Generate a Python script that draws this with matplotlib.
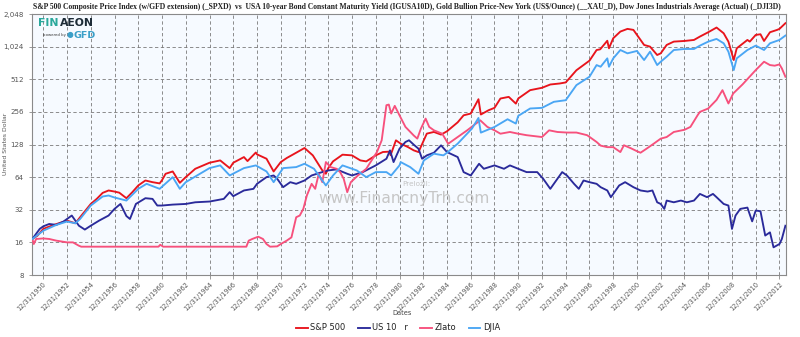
import matplotlib
matplotlib.use("Agg")
import matplotlib.pyplot as plt
from matplotlib.ticker import FixedLocator, NullLocator

# ---- series (decimal years, values in US$ rebased) ----
sp_years = [1950.08, 1950.5, 1951.0, 1951.55, 1952.1, 1953.0, 1953.7, 1954.1, 1955.0, 1955.5,
            1956.0, 1956.5, 1957.0, 1957.4, 1958.0, 1958.5, 1959.0, 1959.6, 1960.2, 1960.8,
            1961.0, 1961.3, 1961.9, 1962.5, 1963.0, 1963.8, 1965.0, 1965.9, 1966.7, 1967.0,
            1967.9, 1968.2, 1968.9, 1969.0, 1969.8, 1970.4, 1971.0, 1971.5, 1972.3, 1973.0,
            1973.7, 1974.5, 1974.8, 1975.0, 1975.4, 1976.2, 1977.0, 1977.7, 1978.2, 1979.0,
            1979.6, 1980.15, 1980.25, 1980.7, 1981.1, 1981.7, 1982.2, 1982.6, 1983.3, 1983.9,
            1984.5, 1985.0, 1985.9, 1986.4, 1987.0, 1987.65, 1987.85, 1988.5, 1989.0, 1989.5,
            1990.2, 1990.8, 1991.0, 1992.0, 1993.0, 1993.7, 1994.5, 1995.0, 1995.9, 1997.0,
            1997.6, 1997.9, 1998.5, 1998.64, 1999.0, 1999.6, 2000.2, 2000.7, 2001.2, 2001.6,
            2002.1, 2002.7, 2003.0, 2003.5, 2004.1, 2005.0, 2005.8, 2006.3, 2007.0, 2007.7,
            2008.3, 2008.7, 2009.15, 2009.4, 2010.3, 2010.5, 2011.0, 2011.4, 2011.7, 2012.2,
            2012.8, 2013.0, 2013.5]
sp_values = [17.2, 18.4, 21.3, 22.5, 23.6, 25.4, 24.0, 27.3, 36.2, 40.3,
             45.8, 48.2, 47.1, 46.0, 40.9, 46.5, 53.6, 59.6, 57.5, 56.0,
             60.0, 68.7, 72.2, 56.7, 64.0, 76.4, 86.9, 91.3, 77.5, 86.9,
             98.0, 90.0, 108.0, 103.8, 94.6, 72.2, 88.1, 96.0, 107.5, 118.8,
             101.6, 73.8, 68.7, 77.5, 89.4, 103.1, 101.6, 91.3, 89.4, 101.6,
             109.1, 110.0, 102.0, 139.9, 130.3, 121.4, 113.0, 109.0, 161.3, 167.1,
             157.9, 169.5, 205.0, 238.0, 247.0, 335.0, 242.0, 265.0, 278.8, 340.0,
             352.0, 305.0, 340.0, 406.0, 427.0, 458.0, 468.0, 478.7, 620.0, 760.0,
             953.0, 967.0, 1160.0, 988.0, 1223.0, 1410.0, 1493.0, 1461.0, 1223.0, 1061.0,
             1024.0, 857.0, 888.0, 1061.0, 1139.0, 1155.0, 1180.0, 1268.0, 1390.0, 1536.0,
             1360.0, 1139.0, 770.0, 988.0, 1180.0, 1139.0, 1313.0, 1332.0, 1155.0, 1390.0,
             1461.0, 1493.0, 1684.0]

us10_years = [1950.08, 1950.7, 1951.0, 1951.5, 1952.1, 1952.7, 1953.4, 1954.0, 1954.5, 1955.0,
              1955.7, 1956.5, 1957.0, 1957.5, 1958.0, 1958.3, 1958.8, 1959.6, 1960.2, 1960.6,
              1961.0, 1961.9, 1963.0, 1963.8, 1965.0, 1966.2, 1966.7, 1967.0, 1967.9, 1968.7,
              1969.0, 1969.8, 1970.4, 1970.7, 1971.2, 1971.8, 1972.3, 1973.0, 1973.6, 1974.3,
              1975.0, 1975.7, 1976.6, 1977.0, 1977.9, 1979.0, 1979.9, 1980.2, 1980.5, 1981.0,
              1981.5, 1981.8, 1982.2, 1982.6, 1982.9, 1983.3, 1983.9, 1984.5, 1985.0, 1985.9,
              1986.4, 1987.0, 1987.7, 1988.1, 1989.0, 1989.8, 1990.3, 1991.0, 1991.7, 1992.6,
              1993.1, 1993.7, 1994.3, 1994.7, 1995.1, 1995.7, 1996.1, 1996.5, 1997.0, 1997.6,
              1997.94, 1998.5, 1998.8, 1999.0, 1999.5, 2000.0, 2000.7, 2001.3, 2001.9, 2002.3,
              2002.7, 2003.0, 2003.3, 2003.5, 2004.1, 2004.7, 2005.2, 2005.8, 2006.3, 2006.9,
              2007.4, 2007.7, 2008.3, 2008.7, 2009.0, 2009.3, 2009.7, 2010.3, 2010.7, 2011.0,
              2011.4, 2011.8, 2012.2, 2012.5, 2013.0, 2013.2, 2013.5]
us10_values = [17.2, 21.3, 22.5, 23.65, 23.2, 24.9, 28.3, 22.8, 21.0, 22.8,
               25.4, 28.3, 32.6, 36.2, 28.0, 26.3, 36.2, 40.9, 40.3, 35.0,
               35.0, 35.7, 36.2, 37.5, 38.1, 40.3, 46.5, 42.7, 48.2, 49.9,
               55.5, 64.0, 66.3, 61.8, 51.7, 57.5, 55.5, 59.6, 66.3, 70.2,
               73.8, 75.4, 68.7, 66.3, 71.2, 82.1, 94.6, 113.0, 88.1, 117.0,
               135.0, 140.0, 127.5, 117.0, 94.6, 101.6, 107.5, 125.7, 109.0, 98.0,
               71.2, 66.3, 85.0, 76.4, 82.1, 76.4, 82.1, 76.4, 71.2, 71.2,
               61.8, 49.9, 61.8, 71.2, 66.3, 55.5, 49.9, 59.6, 57.5, 55.5,
               51.7, 48.2, 41.8, 44.8, 53.6, 57.5, 51.7, 48.2, 47.1, 48.2,
               37.5, 36.2, 32.6, 38.9, 37.5, 38.9, 37.5, 38.9, 44.8, 41.8,
               44.8, 41.8, 36.2, 35.0, 21.3, 28.3, 32.6, 33.5, 25.0, 31.5,
               31.0, 18.5, 19.8, 14.4, 15.45, 17.2, 22.8]

gold_years = [1950.08, 1950.2, 1950.4, 1951.0, 1951.5, 1952.1, 1953.0, 1953.5, 1954.0, 1954.2,
              1960.7, 1960.85, 1961.1, 1968.1, 1968.3, 1968.6, 1969.1, 1969.5, 1969.8, 1970.1,
              1970.7, 1971.0, 1971.5, 1971.9, 1972.3, 1972.6, 1972.9, 1973.2, 1973.6, 1973.9,
              1974.2, 1974.5, 1974.8, 1975.2, 1975.7, 1976.0, 1976.3, 1976.6, 1976.9, 1977.5,
              1978.2, 1979.1, 1979.5, 1979.9, 1980.1, 1980.3, 1980.6, 1981.0, 1981.5, 1982.2,
              1982.5, 1982.8, 1983.2, 1983.5, 1983.9, 1984.6, 1985.1, 1985.9, 1986.7, 1987.8,
              1988.4, 1989.0, 1989.5, 1990.3, 1991.0, 1991.7, 1993.0, 1993.6, 1994.3, 1995.1,
              1995.9, 1996.8, 1997.6, 1997.94, 1998.5, 1999.0, 1999.6, 1999.9, 2000.5, 2001.0,
              2001.3, 2001.8, 2002.4, 2003.0, 2003.5, 2004.1, 2005.0, 2005.5, 2006.1, 2006.3,
              2007.0, 2007.7, 2008.2, 2008.7, 2009.1, 2009.9, 2011.0, 2011.7, 2012.2, 2012.6,
              2013.0, 2013.2, 2013.5]
gold_values = [17.2, 15.45, 17.2, 17.4, 17.2, 16.6, 16.0, 16.0, 14.9, 14.6,
               14.6, 15.2, 14.6, 14.6, 16.6, 17.2, 18.05, 17.2, 15.45, 14.6,
               14.7, 15.45, 16.6, 17.8, 27.3, 28.3, 32.6, 43.4, 55.5, 49.9,
               68.7, 57.5, 88.1, 79.2, 76.4, 71.2, 61.8, 46.5, 57.5, 66.3,
               76.4, 109.0, 139.9, 295.0, 299.0, 247.0, 291.0, 238.0, 186.0, 155.0,
               145.0, 179.0, 222.0, 186.0, 173.0, 161.0, 130.0, 150.0, 173.0, 214.0,
               186.0, 173.0, 161.0, 167.0, 161.0, 156.0, 150.0, 173.0, 167.0, 165.0,
               165.0, 156.0, 135.0, 125.0, 121.0, 121.0, 109.0, 126.0, 118.0, 111.0,
               107.5, 117.0, 130.0, 145.0, 150.0, 167.0, 175.0, 186.0, 238.0, 256.0,
               275.0, 330.0, 406.0, 306.0, 378.0, 460.0, 622.0, 743.0, 692.0, 683.0,
               702.0, 645.0, 540.0]

djia_years = [1950.08, 1951.0, 1952.1, 1953.0, 1953.7, 1954.1, 1955.0, 1956.0, 1956.5, 1957.0,
              1958.0, 1959.0, 1959.7, 1960.8, 1961.9, 1962.5, 1963.0, 1965.0, 1965.9, 1966.7,
              1967.9, 1968.9, 1969.8, 1970.4, 1971.2, 1972.3, 1973.0, 1973.8, 1974.8, 1975.4,
              1976.2, 1977.4, 1978.2, 1979.0, 1979.9, 1980.3, 1981.0, 1981.1, 1981.9, 1982.6,
              1983.05, 1983.9, 1984.7, 1985.0, 1985.9, 1986.7, 1987.1, 1987.65, 1987.85, 1989.0,
              1990.1, 1990.8, 1991.0, 1992.0, 1993.0, 1994.0, 1995.0, 1995.9, 1997.0, 1997.6,
              1997.94, 1998.5, 1998.64, 1999.0, 1999.6, 2000.2, 2001.0, 2001.6, 2002.1, 2002.7,
              2003.0, 2003.5, 2004.1, 2005.0, 2005.8, 2006.3, 2007.0, 2007.7, 2008.3, 2008.7,
              2009.15, 2009.4, 2010.3, 2011.0, 2011.7, 2012.2, 2013.0, 2013.5]
djia_values = [17.2, 20.5, 23.2, 24.9, 24.0, 26.3, 35.0, 42.4, 43.3, 41.5,
               38.9, 49.9, 55.5, 49.9, 64.0, 49.9, 57.5, 77.5, 82.1, 66.3,
               77.5, 82.1, 72.2, 57.5, 77.5, 79.2, 85.0, 76.4, 53.6, 66.3,
               82.1, 73.8, 64.0, 71.2, 71.2, 66.3, 82.1, 88.1, 79.2, 68.7,
               91.3, 105.3, 101.6, 107.5, 130.3, 161.3, 179.4, 225.0, 164.7, 185.8,
               218.9, 199.6, 235.0, 275.0, 278.8, 317.0, 328.0, 452.0, 540.0, 692.0,
               668.0, 798.0, 668.0, 798.0, 953.0, 888.0, 934.0, 770.0, 920.0, 692.0,
               743.0, 827.0, 953.0, 974.0, 974.0, 1046.0, 1139.0, 1206.0, 1099.0, 920.0,
               622.0, 798.0, 953.0, 1046.0, 953.0, 1099.0, 1180.0, 1295.0]

y_ticks = [8, 16, 32, 64, 128, 256, 512, 1024, 2048]
y_tick_labels = ["8", "16", "32", "64", "128", "256", "512", "1,024", "2,048"]
x_tick_years = list(range(1950, 2013, 2))
x_tick_labels = ["12/31/%d" % y for y in x_tick_years]

series_names = ["S&P 500", "US 10   r", "Zlato", "DJIA"]
series_colors = ["#e8141c", "#2a2a9a", "#f7507c", "#4aa6f4"]

title = ("S&P 500 Composite Price Index (w/GFD extension) (_SPXD)  vs  USA 10-year Bond Constant "
         "Maturity Yield (IGUSA10D), Gold Bullion Price-New York (US$/Ounce) (__XAU_D), "
         "Dow Jones Industrials Average (Actual) (_DJI3D)")

W, H = 800.0, 337.0
fig = plt.figure(figsize=(W / 100, H / 100), dpi=100)
fig.patch.set_facecolor("white")
ax = fig.add_axes([32 / W, 1 - 275 / H, 754 / W, 261 / H])
ax.set_facecolor("#f6faff")

data = [(sp_years, sp_values), (us10_years, us10_values),
        (gold_years, gold_values), (djia_years, djia_values)]
lines = {}
# gold and the yield go under the two equity indices
for idx in [2, 1, 3, 0]:
    xs, ys = data[idx]
    ln, = ax.plot(xs, ys, color=series_colors[idx], lw=1.35, zorder=3 + idx * 0.1,
                  label=series_names[idx], solid_joinstyle="round")
    lines[series_names[idx]] = ln

ax.set_yscale("log", base=2)
ax.set_ylim(8, 2048)
ax.set_xlim(1950.05, 2013.55)
ax.yaxis.set_major_locator(FixedLocator(y_ticks))
ax.yaxis.set_minor_locator(NullLocator())
ax.set_yticklabels(y_tick_labels)
tick_pos = [y + 1.0 for y in x_tick_years]
ax.xaxis.set_major_locator(FixedLocator(tick_pos))
ax.xaxis.set_minor_locator(NullLocator())
ax.set_xticklabels(x_tick_labels, rotation=45, ha="right", rotation_mode="anchor")

ax.grid(True, which="major", color="#7a7a7a", linestyle=(0, (4, 3)), linewidth=0.6, zorder=1)
ax.tick_params(axis="x", colors="#8a8a8a", labelcolor="#555555", labelsize=4.8,
               length=3, width=0.6, pad=1.5)
ax.tick_params(axis="y", colors="#8a8a8a", labelcolor="#555555", labelsize=5.1,
               length=2, width=0.6, pad=4)
for s in ax.spines.values():
    s.set_color("#8a8a8a")
    s.set_linewidth(0.8)

fig.text(6 / W, 1 - 144 / H, "United States Dollar", rotation=90, fontsize=4.4,
         color="#555555", ha="center", va="center")
fig.text(402 / W, 1 - 313 / H, "Dates", fontsize=4.8, color="#444444",
         ha="center", va="center")

fig.text(33 / W, 1 - 7 / H, title, fontsize=5.5, fontweight="bold", family="Liberation Serif",
         color="#222222", va="center", ha="left")

# logo block
fig.text(38 / W, 1 - 23.5 / H, "FIN", fontsize=7.8, fontweight="bold", color="#2aa89b",
         ha="left", va="center", zorder=6)
fig.text(59.5 / W, 1 - 23.5 / H, "AEON", fontsize=7.8, fontweight="bold", color="#1d2b36",
         ha="left", va="center", zorder=6)
fig.text(43 / W, 1 - 35 / H, "powered by", fontsize=2.8, color="#333333",
         ha="left", va="center", zorder=6)
fig.text(67 / W, 1 - 35 / H, "\u25CF", fontsize=5.6, color="#3a9fc8",
         ha="left", va="center", zorder=6)
fig.text(74 / W, 1 - 35.5 / H, "GFD", fontsize=6.8, fontweight="bold", color="#3a9fc8",
         ha="left", va="center", zorder=6)

# translator credit
fig.text(402 / W, 1 - 184 / H, "Preložil:", fontsize=5.2, color="#c4c4c4",
         ha="left", va="center", zorder=2)
fig.text(318 / W, 1 - 199 / H, "www.FinancnyTrh.com", fontsize=11.2, color="#c6c6c6",
         ha="left", va="center", zorder=2)

order = ["S&P 500", "US 10   r", "Zlato", "DJIA"]
leg = fig.legend([lines[n] for n in order], order, loc="center", ncol=4,
                 bbox_to_anchor=(398 / W, 1 - 328 / H), frameon=False, fontsize=6.0,
                 handlelength=1.4, handletextpad=0.3, columnspacing=1.5, borderpad=0.1)
for t in leg.get_texts():
    t.set_color("#222222")

fig.savefig("out.png", dpi=100, facecolor="white")
